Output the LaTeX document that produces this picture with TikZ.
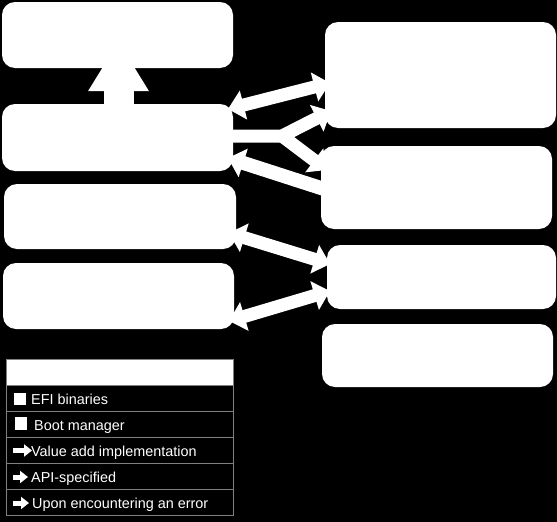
\documentclass[tikz,border=0pt]{standalone}
\usepackage{fontspec}
\setmainfont{Liberation Sans}
\usetikzlibrary{arrows.meta}
\pgfdeclarelayer{bgl}
\pgfdeclarelayer{arl}
\pgfsetlayers{bgl,arl,main}
\begin{document}
\begin{tikzpicture}[x=1pt,y=-1pt,
  box/.style={fill=white, rounded corners=13pt, inner sep=0pt, outer sep=0pt},
  fat/.style={white, line width=13pt, line join=round},
  fhead/.tip={Triangle[length=16pt,width=29pt]},
  legrow/.style={draw=gray, line width=0.8pt, minimum width=227pt, minimum height=26pt, inner sep=0pt, outer sep=0pt},
  legtxt/.style={text=white, anchor=base west, inner sep=0pt, font=\fontsize{14.4}{16}\selectfont},
  legsq/.style={fill=white, inner sep=0pt, outer sep=0pt, minimum width=12pt, minimum height=12pt},
  legarrow/.style={white, line width=5pt, -{Triangle[length=8pt,width=12pt]}}]
\begin{pgfonlayer}{bgl}
\fill[black] (0,0) rectangle (557,522);
\end{pgfonlayer}
\useasboundingbox (0,0) rectangle (557,522);

% boxes
\node[box, minimum width=231pt, minimum height=66pt] (A) at (117.5,35) {};
\node[box, minimum width=231pt, minimum height=67pt] (B) at (117.5,137.5) {};
\node[box, minimum width=232pt, minimum height=65pt] (C) at (120,216.5) {};
\node[box, minimum width=231pt, minimum height=66pt] (D) at (118.5,296) {};
\node[box, minimum width=231pt, minimum height=106pt] (R1) at (440.5,75) {};
\node[box, minimum width=231pt, minimum height=83pt] (R2) at (436.5,187.5) {};
\node[box, minimum width=229pt, minimum height=64pt] (R3) at (441.5,277) {};
\node[box, minimum width=231pt, minimum height=63pt] (R4) at (437.5,355.5) {};

% arrow end points
\coordinate (b1) at (228,109);
\coordinate (r1a) at (330,83);
\coordinate (ybar) at (225,136);
\coordinate (yfork) at (282,136);
\coordinate (r1b) at (331,111);
\coordinate (r2a) at (327,170);
\coordinate (b2) at (228,158);
\coordinate (r2b) at (324,189);
\coordinate (c1) at (229,233);
\coordinate (r3a) at (330,264);
\coordinate (d1) at (229,321);
\coordinate (r3b) at (330,291);

\begin{pgfonlayer}{arl}
\draw[white, line width=30pt, -{Triangle[length=50pt,width=57pt]}]
  ([xshift=1pt]B.north) -- ([xshift=1pt,yshift=27pt]A.south);
\draw[fat, {fhead}-{fhead}] (b1) -- (r1a);
\draw[fat, -{fhead}] (ybar) -- (yfork) -- (r1b);
\draw[fat, -{fhead}] (yfork) -- (r2a);
\draw[fat, line width=14pt, -{fhead}] (r2b) -- (b2);
\draw[fat, {fhead}-{fhead}] (c1) -- (r3a);
\draw[fat, {fhead}-{fhead}] (d1) -- (r3b);
\end{pgfonlayer}

% legend
\node[legrow, fill=white] (L0) at (119.5,372) {};
\node[legrow] (L1) at (119.5,398) {};
\node[legrow] (L2) at (119.5,424) {};
\node[legrow] (L3) at (119.5,450) {};
\node[legrow] (L4) at (119.5,476) {};
\node[legrow] (L5) at (119.5,502) {};

\node[legsq] (s1) at (20,399) {};
\node[legsq, minimum height=13pt] (s2) at (21,423.5) {};
\draw[legarrow] (13,450.5) -- (32,450.5);
\draw[legarrow] (13,477) -- (28,477);
\draw[legarrow] (13,503) -- (29,503);

\node[legtxt] (t1) at (31,404) {EFI binaries};
\node[legtxt] (t2) at (34,430) {Boot manager};
\node[legtxt] (t3) at (31,456) {Value add implementation};
\node[legtxt] (t4) at (31,482) {API-specified};
\node[legtxt] (t5) at (32,508) {Upon encountering an error};
\end{tikzpicture}
\end{document}
